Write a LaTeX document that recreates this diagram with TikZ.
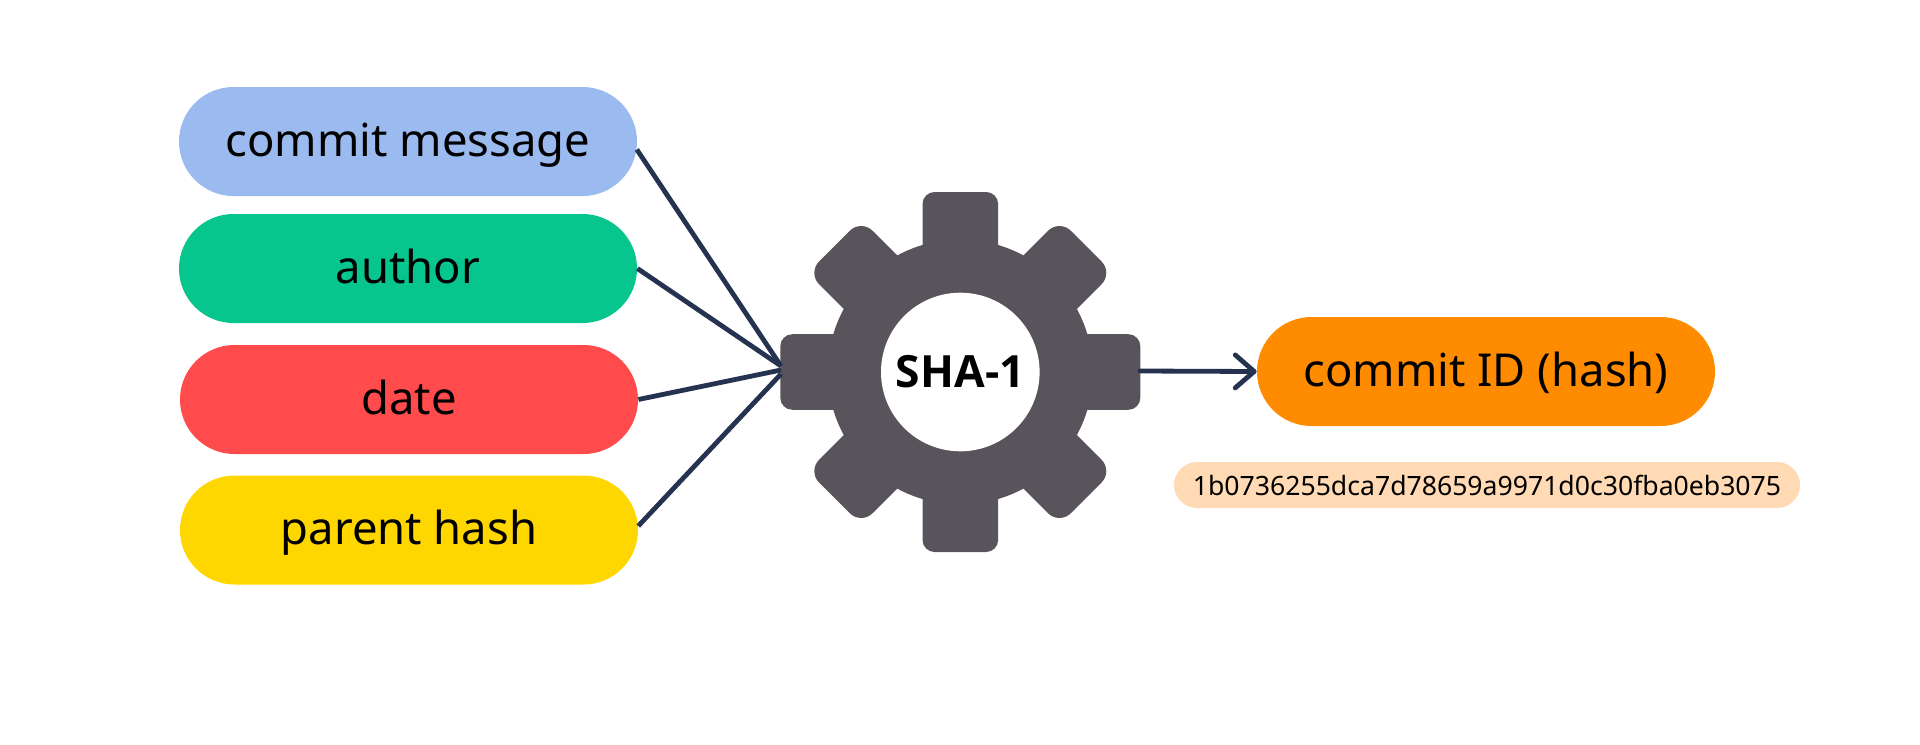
\documentclass[tikz,border=0pt]{standalone}
\usepackage{fontspec}
\setmainfont{Noto Sans}
\newfontfamily\shafont{Open Sans}
\usetikzlibrary{arrows.meta,shapes.misc}
\definecolor{msgblue}{HTML}{9BBAEF}
\definecolor{authorgreen}{HTML}{06C58D}
\definecolor{datered}{HTML}{FF4B4B}
\definecolor{parentyellow}{HTML}{FFD700}
\definecolor{idorange}{HTML}{FF8C00}
\definecolor{hashpeach}{HTML}{FFDAB4}
\definecolor{gearcol}{HTML}{59545B}
\definecolor{linecol}{HTML}{253350}

\begin{document}
\begin{tikzpicture}[x=0.5pt,y=-0.5pt]
				\tikzstyle{pill}=[rounded rectangle,inner sep=0pt,minimum width=229pt,minimum height=54.5pt,
				text height=16pt,text depth=1.5pt,font=\fontsize{22.7}{26}\selectfont,text=black]
				\tikzstyle{wire}=[draw=linecol,line width=2.4pt]
				\useasboundingbox (0,0) rectangle (1920,744);
				\fill[gearcol] (960.3,372) circle (66.25pt);
				\foreach \a/\r/\c in {0/180/6,45/178/8,90/180/6,135/178/8,180/180/6,225/178/8,270/180/6,315/178/8}
					\fill[gearcol,rotate around={\a:(960.3,372)},rounded corners=\c pt] (1060,372-37.8) rectangle (960.3+\r,372+37.8);
				\node[circle,fill=white,inner sep=0pt,minimum size=79.3pt,font=\fontsize{22.2}{26}\shafont\bfseries] (sha) at (960.3,372) {SHA-1};
				\node[pill,fill=msgblue] (msg) at (408,141.5) {commit message};
				\node[pill,fill=authorgreen] (author) at (408,268.5) {author};
				\node[pill,fill=datered] (date) at (409,399.5) {date};
				\node[pill,fill=parentyellow] (parent) at (409,530) {parent hash};
				\node[pill,fill=idorange] (id) at (1486,371.5) {commit ID (hash)};
				\node[rounded rectangle,inner sep=0pt,minimum width=313pt,minimum height=23pt,fill=hashpeach,
				font=\fontsize{13.3}{15}\selectfont,text=black] (hash) at (1487,485) {1b0736255dca7d78659a9971d0c30fba0eb3075};
				\coordinate (hubtop) at (781,366);
				\coordinate (hubdate) at (781,370);
				\coordinate (hubparent) at (781,374);
				\coordinate (hubout) at (1140,371);
				\draw[wire] (msg.-2) -- (hubtop);
				\draw[wire] (author.east) -- (hubtop);
				\draw[wire] (date.0.4) -- (hubdate);
				\draw[wire] (parent.1.5) -- (hubparent);
				\draw[wire,line cap=round,-{Straight Barb[length=9.5pt,width=16.5pt,round]}] (hubout) -- (id.west);
\end{tikzpicture}
\end{document}
